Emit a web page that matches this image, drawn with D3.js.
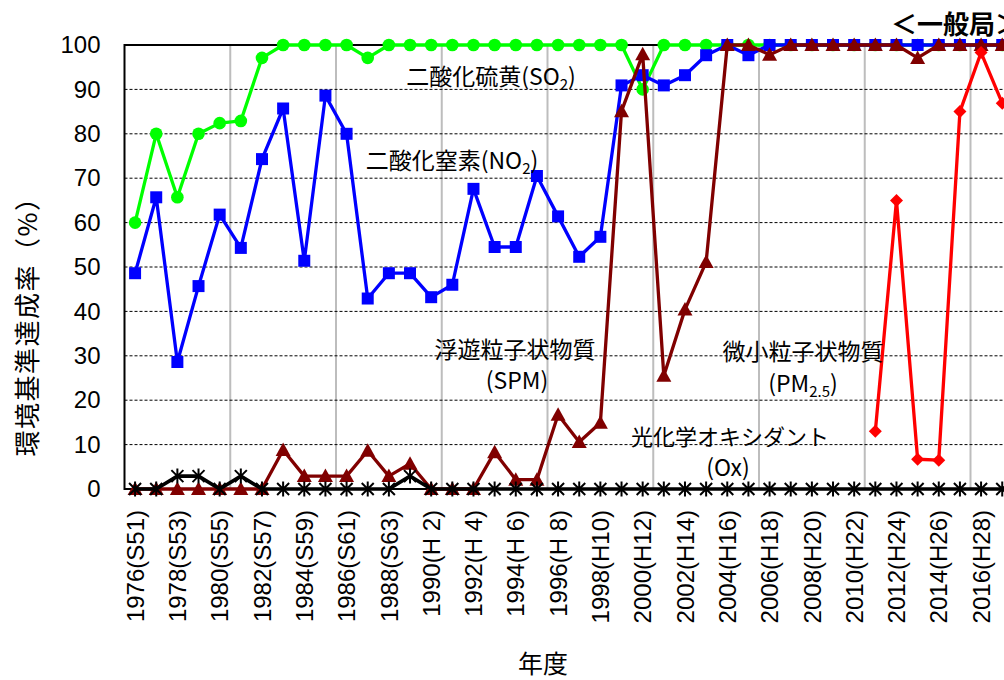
<!DOCTYPE html>
<html><head><meta charset="utf-8">
<script src="https://cdn.jsdelivr.net/npm/d3@7"></script>
<style>
html,body{margin:0;padding:0;background:#fff;overflow:hidden}
svg{display:block}
</style></head>
<body>
<svg id="chart" width="1004" height="680"></svg>
<script>
// ---- data ----
const years = [1976,1977,1978,1979,1980,1981,1982,1983,1984,1985,1986,1987,1988,1989,1990,1991,1992,1993,1994,1995,1996,1997,1998,1999,2000,2001,2002,2003,2004,2005,2006,2007,2008,2009,2010,2011,2012,2013,2014,2015,2016,2017];
const so2 = [60,80,65.7,80,82.4,82.9,97.1,100,100,100,100,97.1, 100,100,100,100,100,100,100,100,100,100,100,100, 90, 100,100,100,100,100,100,100,100,100,100,100,100,100,100,100,100,100];
const no2 = [48.6,65.7,28.6,45.7,61.8,54.3,74.3,85.7,51.4,88.6,80.0,42.9,48.6,48.6,43.2,46.0,67.6,54.5,54.5,70.5,61.4,52.3,56.8,90.9,93.2,90.9,93.2,97.7,100,97.7, 100,100,100,100,100,100,100,100,100,100,100,100];
const spm = [0,0,0,0,0,0,0, 8.8,2.9,2.9,2.9,8.6,2.9,5.7, 0,0,0, 8.3,2.1,2.1,16.7,10.6,14.9, 85.1,97.9,25.5,40.4,51.1, 100,100,97.8,100,100,100,100,100,100, 97.1, 100,100,100,100];
const ox = [0,0,2.9,2.9,0,2.9,0, 0,0,0,0,0,0, 2.9, 0,0,0,0,0,0,0,0,0,0,0,0,0,0,0,0,0,0,0,0,0,0,0,0,0,0,0,0];
const pm25Years = [2011,2012,2013,2014,2015,2016,2017];
const pm25 = [13.0,65.0,6.7,6.5,85.0,98.3,86.9];
const yTicks = [0,10,20,30,40,50,60,70,80,90,100];
const xTickYears = [1976,1978,1980,1982,1984,1986,1988,1990,1992,1994,1996,1998,2000,2002,2004,2006,2008,2010,2012,2014,2016];
const xTickLabels = ["1976(S51)","1978(S53)","1980(S55)","1982(S57)","1984(S59)","1986(S61)","1988(S63)","1990(H 2)","1992(H 4)","1994(H 6)","1996(H 8)","1998(H10)","2000(H12)","2002(H14)","2004(H16)","2006(H18)","2008(H20)","2010(H22)","2012(H24)","2014(H26)","2016(H28)"];
const gridYears = [1981,1986,1991,1996,2001,2006,2011,2016];

// ---- layout ----
const L = 124.5, T = 45, B = 489, R = 124.5 + 42*21.15;
const svg = d3.select("#chart");
svg.append("rect").attr("width",1004).attr("height",680).attr("fill","#fff");

const x = d3.scaleBand().domain(years).range([L, R]);
const cx = d => x(d) + x.bandwidth()/2;
const y = d3.scaleLinear().domain([0,100]).range([B, T]);

const latin = "'Liberation Sans', Arial, sans-serif";
const cjk = "'Noto Sans CJK JP', sans-serif";

// vertical grid
svg.append("g").selectAll("line").data(gridYears).join("line")
  .attr("x1", d=>x(d)).attr("x2", d=>x(d)).attr("y1", T).attr("y2", B)
  .attr("stroke","#bdbdbd").attr("stroke-width",2);

// horizontal dashed grid
svg.append("g").selectAll("line").data(yTicks.filter(v=>v>0 && v<100)).join("line")
  .attr("x1", L).attr("x2", R).attr("y1", d=>y(d)).attr("y2", d=>y(d))
  .attr("stroke","#000").attr("stroke-width",1).attr("stroke-dasharray","3,2");

// y axis labels
const yAxis = d3.axisLeft(y).tickValues(yTicks).tickSize(0).tickPadding(24);
const gy = svg.append("g").attr("transform",`translate(${L},0)`).call(yAxis);
gy.select(".domain").remove();
gy.selectAll("text").attr("font-family",latin).attr("font-size",24).attr("fill","#000");

// x axis labels
const xAxis = d3.axisBottom(x).tickValues(xTickYears).tickSize(0).tickFormat((d)=>xTickLabels[xTickYears.indexOf(d)]);
const gx = svg.append("g").attr("transform",`translate(0,${B})`).call(xAxis);
gx.select(".domain").remove();
gx.selectAll("text")
  .attr("font-family",latin).attr("font-size",24).attr("fill","#000")
  .attr("text-anchor","end")
  .attr("transform","rotate(-90)")
  .attr("x",-21).attr("y",0).attr("dy","0.36em");

// frame
svg.append("line").attr("x1",L).attr("x2",R).attr("y1",T).attr("y2",T).attr("stroke","#000").attr("stroke-width",2);
svg.append("line").attr("x1",L).attr("x2",L).attr("y1",T-1).attr("y2",B+1).attr("stroke","#000").attr("stroke-width",2);
svg.append("line").attr("x1",L).attr("x2",R).attr("y1",B).attr("y2",B).attr("stroke","#000").attr("stroke-width",2);

function series(xs, vals, color, marker){
  const pts = xs.map((yr,i)=>({x:cx(yr), y:y(vals[i])}));
  const g = svg.append("g");
  g.append("path").datum(pts)
    .attr("d", d3.line().x(d=>d.x).y(d=>d.y))
    .attr("fill","none").attr("stroke",color).attr("stroke-width",marker==="star"?3.6:3.3).attr("stroke-linejoin","round");
  const m = g.selectAll("path.m").data(pts).join("path").attr("class","m")
    .attr("transform", d=>`translate(${d.x},${d.y})`);
  if (marker==="circle") m.attr("d", d3.symbol(d3.symbolCircle, 125)()).attr("fill",color);
  if (marker==="square") m.attr("d", "M-6,-6H6V6H-6Z").attr("fill",color);
  if (marker==="triangle") m.attr("d", "M0,-7.5L7.5,6L-7.5,6Z").attr("fill",color);
  if (marker==="diamond") m.attr("d", "M0,-6.5L6.5,0L0,6.5L-6.5,0Z").attr("fill",color);
  if (marker==="star") m.attr("d", "M-6,-6L6,6M-6,6L6,-6M0,-7.5L0,7.5").attr("fill","none").attr("stroke",color).attr("stroke-width",2);
}
series(years, so2, "#00ff00", "circle");
series(years, no2, "#0000ff", "square");
series(years, spm, "#800000", "triangle");
series(years, ox, "#000000", "star");
series(pm25Years, pm25, "#ff0000", "diamond");

// annotations
function note(xc, yb, parts, size){
  const t = svg.append("text").attr("x",xc).attr("y",yb).attr("text-anchor","middle")
    .attr("font-family",cjk).attr("font-size",size||23).attr("fill","#000");
  parts.forEach(p=>{
    if (typeof p === "string") t.append("tspan").text(p);
    else t.append("tspan").attr("font-size",p.s).attr("dy",p.dy).text(p.t);
  });
  return t;
}
note(491, 85, ["二酸化硫黄(SO",{t:"2",s:15,dy:5},{t:")",s:23,dy:-5}]);
note(452, 169, ["二酸化窒素(NO",{t:"2",s:15,dy:5},{t:")",s:23,dy:-5}]);
note(515, 358, ["浮遊粒子状物質"]);
note(517, 389, ["(SPM)"]);
note(730, 445, ["光化学オキシダント"], 22);
note(728, 476, ["(Ox)"]);
note(803, 360, ["微小粒子状物質"]);
note(803, 392, ["(PM",{t:"2.5",s:15,dy:5},{t:")",s:23,dy:-5}]);

svg.append("text").attr("x",891).attr("y",34).attr("font-family",cjk).attr("font-weight","bold")
  .attr("font-size",26).attr("fill","#000").text("＜一般局＞");

// axis titles
svg.append("text").attr("transform","translate(25,320) rotate(-90)")
  .attr("text-anchor","middle").attr("dominant-baseline","central")
  .attr("font-family",cjk).attr("font-size",26).attr("letter-spacing","1.5px").attr("fill","#000").text("環境基準達成率（%）");
svg.append("text").attr("x",543).attr("y",673).attr("text-anchor","middle")
  .attr("font-family",cjk).attr("font-size",25).attr("fill","#000").text("年度");
</script>
</body></html>
